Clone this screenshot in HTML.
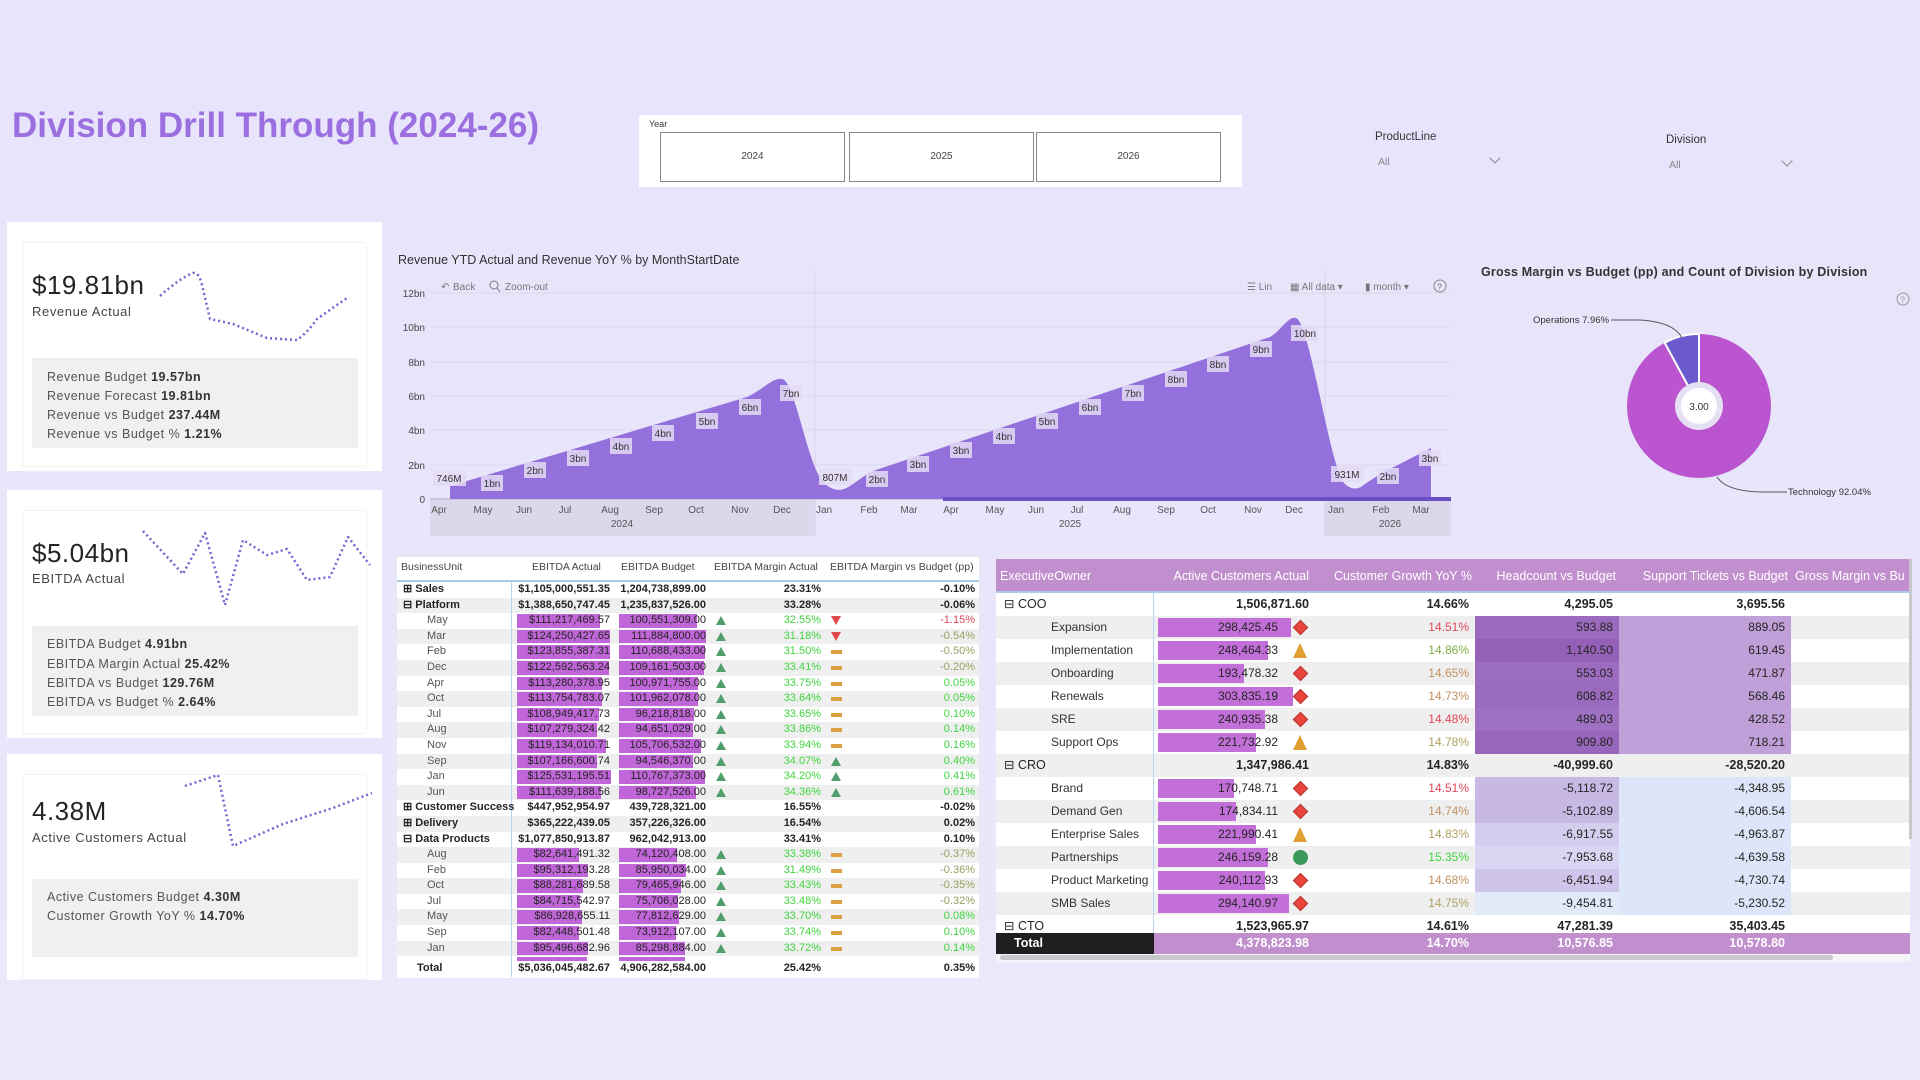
<!DOCTYPE html>
<html><head><meta charset="utf-8">
<style>
*{box-sizing:border-box;margin:0;padding:0}
body{width:1920px;height:1080px;overflow:hidden;background:linear-gradient(180deg,#e7e4fb 0%,#e9e6fb 60%,#ebe8fb 100%);font-family:"Liberation Sans",sans-serif;position:relative;color:#252423}
.abs{position:absolute}
.card{position:absolute;left:7px;width:375px;background:#fff}
.inner{position:absolute;left:15px;width:345px;border:1px solid #f3f3f3;background:#fff}
.big{position:absolute;left:25px;font-size:26px;color:#252423;letter-spacing:0.5px}
.lbl{position:absolute;left:25px;font-size:13px;color:#444;letter-spacing:0.6px}
.gbox{position:absolute;left:25px;width:326px;background:#f0f0f0}
.gl{position:absolute;left:40px;font-size:12.5px;color:#555;letter-spacing:0.5px;white-space:nowrap}
.gl b{color:#333}
.lt{position:absolute;left:397px;top:557px;width:582px;height:421px;background:#fff;font-size:11px;overflow:hidden}
.lt .r{height:15.6px;display:flex;line-height:15.6px;white-space:nowrap}
.lt .g{background:#efefef}
.lt .c1{width:115px;padding-left:6px;border-right:1.5px solid #b8d4ee;position:relative}
.lt .c2{width:99px;text-align:right;position:relative;padding-right:1px}
.lt .c3{width:95px;text-align:right;position:relative}
.lt .c4{width:115px;text-align:right;position:relative}
.lt .c5{width:154px;text-align:right;position:relative}
.lt .b .c1,.lt .b .c2,.lt .b .c3,.lt .b .c4,.lt .b .c5{font-weight:bold}
.lt .m{padding-left:30px;color:#555}
.bar{position:absolute;top:1px;height:13.6px;background:#c066d8;z-index:0}
.t{position:relative;z-index:1}
.up{position:absolute;left:10px;top:3px;width:0;height:0;border-left:5px solid transparent;border-right:5px solid transparent;border-bottom:9px solid #4f9e6c}
.dn{position:absolute;left:10px;top:3px;width:0;height:0;border-left:5.5px solid transparent;border-right:5.5px solid transparent;border-top:9px solid #e0474a}
.da{position:absolute;left:10px;top:6px;width:11px;height:4px;background:#dda040}
.grn{color:#3fd43f}.red{color:#e04858}.ol{color:#96a060}
.rt{position:absolute;left:996px;top:559px;width:914px;height:395px;background:#fff;font-size:12px;overflow:hidden}
.rt .h{height:34px;display:flex;background:#c18fcd;color:#fff;line-height:34px;border-bottom:2px solid #a8cbe8;font-size:12.5px;white-space:nowrap}
.rt .r{height:23px;display:flex;line-height:23px;white-space:nowrap}
.rt .g{background:#efefef}
.rt .c1{width:158px;border-right:1.5px solid #b8d4ee;position:relative;padding-left:8px}
.rt .c2{width:159px;text-align:right;position:relative;padding-right:35px}
.rt .c3{width:162px;text-align:right;padding-right:6px}
.rt .c4{width:144px;text-align:right;padding-right:6px}
.rt .c5{width:172px;text-align:right;padding-right:6px}
.rt .c6{width:119px}
.rt .b{font-weight:bold;font-size:12.5px}
.rt .s{padding-left:55px;color:#333}
.rbar{position:absolute;left:4px;top:2px;height:19px;background:#c36fda}
.dia{position:absolute;right:7px;top:6px;width:11px;height:11px;background:#e8453c;transform:rotate(45deg);border:1px solid #b33}
.tri{position:absolute;right:6px;top:4px;width:0;height:0;border-left:7px solid transparent;border-right:7px solid transparent;border-bottom:15px solid #e0a030}
.cir{position:absolute;right:5px;top:4px;width:15px;height:15px;border-radius:50%;background:#3a9a5a}
</style></head><body>

<div class="abs" style="left:12px;top:106px;font-size:35px;font-weight:bold;color:#9b6fe0;white-space:nowrap">Division Drill Through (2024-26)</div>

<!-- Year slicer -->
<div class="abs" style="left:639px;top:115px;width:603px;height:72px;background:#fff"></div>
<div class="abs" style="left:649px;top:119px;font-size:9px;color:#333">Year</div>
<div class="abs" style="left:660px;top:132px;width:185px;height:50px;border:1px solid #888;background:#fff;font-size:10px;text-align:center;line-height:48px;color:#444">2024</div>
<div class="abs" style="left:849px;top:132px;width:185px;height:50px;border:1px solid #888;background:#fff;font-size:10px;text-align:center;line-height:48px;color:#444">2025</div>
<div class="abs" style="left:1036px;top:132px;width:185px;height:50px;border:1px solid #888;background:#fff;font-size:10px;text-align:center;line-height:48px;color:#444">2026</div>

<div class="abs" style="left:1375px;top:131px;font-size:11.5px;color:#333">ProductLine</div>
<div class="abs" style="left:1378px;top:156px;font-size:10.5px;color:#888">All</div>
<div class="abs" style="left:1491px;top:154px;width:8px;height:8px;border-right:1px solid #888;border-bottom:1px solid #888;transform:rotate(45deg)"></div>
<div class="abs" style="left:1666px;top:134px;font-size:11.5px;color:#333">Division</div>
<div class="abs" style="left:1669px;top:159px;font-size:10.5px;color:#888">All</div>
<div class="abs" style="left:1783px;top:157px;width:8px;height:8px;border-right:1px solid #888;border-bottom:1px solid #888;transform:rotate(45deg)"></div>

<!-- Cards -->
<div class="card" style="top:222px;height:249px">
  <div class="inner" style="top:20px;height:225px"></div>
  <div class="big" style="top:48px">$19.81bn</div>
  <div class="lbl" style="top:82px">Revenue Actual</div>
  <div class="gbox" style="top:136px;height:90px"></div>
  <div class="gl" style="top:148px">Revenue Budget <b>19.57bn</b></div>
  <div class="gl" style="top:167px">Revenue Forecast <b>19.81bn</b></div>
  <div class="gl" style="top:186px">Revenue vs Budget <b>237.44M</b></div>
  <div class="gl" style="top:205px">Revenue vs Budget % <b>1.21%</b></div>
</div>
<div class="card" style="top:490px;height:248px">
  <div class="inner" style="top:20px;height:224px"></div>
  <div class="big" style="top:48px">$5.04bn</div>
  <div class="lbl" style="top:81px">EBITDA Actual</div>
  <div class="gbox" style="top:136px;height:90px"></div>
  <div class="gl" style="top:147px">EBITDA Budget <b>4.91bn</b></div>
  <div class="gl" style="top:167px">EBITDA Margin Actual <b>25.42%</b></div>
  <div class="gl" style="top:186px">EBITDA vs Budget <b>129.76M</b></div>
  <div class="gl" style="top:205px">EBITDA vs Budget % <b>2.64%</b></div>
</div>
<div class="card" style="top:754px;height:226px">
  <div class="inner" style="top:20px;height:206px"></div>
  <div class="big" style="top:42px">4.38M</div>
  <div class="lbl" style="top:76px">Active Customers Actual</div>
  <div class="gbox" style="top:125px;height:78px"></div>
  <div class="gl" style="top:136px">Active Customers Budget <b>4.30M</b></div>
  <div class="gl" style="top:155px">Customer Growth YoY % <b>14.70%</b></div>
</div>
<svg class="abs" style="left:0;top:0" width="400" height="1000">
 <g fill="none" stroke="#7b61d0" stroke-width="2.5" stroke-dasharray="2 3" stroke-linejoin="round">
  <path d="M160,296 Q180,278 193,273 Q199,272 202,285 L210,319 L233,324 L267,338 L297,340 Q308,332 317,319 L347,298"/>
  <path d="M143,531 L183,574 L205,533 L225,605 L243,540 L267,555 L287,549 L307,580 L330,577 L348,537 L370,565"/>
  <path d="M185,786 L218,775 L233,846 L283,824 L333,808 L372,793"/>
 </g>
</svg>

<!-- Area chart -->
<div class="abs" style="left:398px;top:253px;font-size:12.5px;color:#333;white-space:nowrap">Revenue YTD Actual and Revenue YoY % by MonthStartDate</div>
<svg class="abs" style="left:0;top:0" width="1460" height="540" font-family="Liberation Sans, sans-serif">
 <rect x="430" y="499" width="385" height="37" fill="#dcd8ec"/>
 <rect x="1325" y="499" width="126" height="37" fill="#dcd8ec"/>
 <g stroke="#dcd8ee" stroke-width="1">
  <line x1="430" y1="293" x2="1451" y2="293"/><line x1="430" y1="327" x2="1451" y2="327"/>
  <line x1="430" y1="362" x2="1451" y2="362"/><line x1="430" y1="396" x2="1451" y2="396"/>
  <line x1="430" y1="430" x2="1451" y2="430"/><line x1="430" y1="465" x2="1451" y2="465"/>
  <line x1="815" y1="270" x2="815" y2="536" stroke="#d8d4ea"/>
  <line x1="1325" y1="270" x2="1325" y2="536" stroke="#d8d4ea"/>
 </g>
 <line x1="430" y1="499" x2="1451" y2="499" stroke="#b0b0c0"/>
 <path d="M450,499 L450,486 L747,397 C765,388 772,378 782,379 C795,380 808,470 825,484 C835,492 842,491 850,486 L870,472 L1270,337 C1282,330 1288,316 1296,318 C1310,322 1330,470 1345,484 C1352,490 1358,490 1365,484 L1380,474 L1431,448 L1431,499 Z" fill="#9370db"/>
 <rect x="943" y="497" width="508" height="4" fill="#6a4fc4"/>
 <g font-size="10" fill="#444" text-anchor="end">
  <text x="425" y="297">12bn</text><text x="425" y="331">10bn</text><text x="425" y="366">8bn</text>
  <text x="425" y="400">6bn</text><text x="425" y="434">4bn</text><text x="425" y="469">2bn</text><text x="425" y="503">0</text>
 </g>
 <g font-size="10" fill="#555" text-anchor="middle">
  <text x="439" y="513">Apr</text><text x="483" y="513">May</text><text x="524" y="513">Jun</text><text x="565" y="513">Jul</text>
  <text x="610" y="513">Aug</text><text x="654" y="513">Sep</text><text x="696" y="513">Oct</text><text x="740" y="513">Nov</text>
  <text x="782" y="513">Dec</text><text x="824" y="513">Jan</text><text x="869" y="513">Feb</text><text x="909" y="513">Mar</text>
  <text x="951" y="513">Apr</text><text x="995" y="513">May</text><text x="1036" y="513">Jun</text><text x="1077" y="513">Jul</text>
  <text x="1122" y="513">Aug</text><text x="1166" y="513">Sep</text><text x="1208" y="513">Oct</text><text x="1253" y="513">Nov</text>
  <text x="1294" y="513">Dec</text><text x="1336" y="513">Jan</text><text x="1381" y="513">Feb</text><text x="1421" y="513">Mar</text>
  <text x="622" y="527">2024</text><text x="1070" y="527">2025</text><text x="1390" y="527">2026</text>
 </g>
 <g font-size="10" fill="#333" text-anchor="middle">
  <g fill="#e4dcf5" opacity="0.85">
   <rect x="433" y="470" width="33" height="16"/><rect x="481" y="475" width="22" height="16"/><rect x="524" y="462" width="22" height="16"/>
   <rect x="567" y="450" width="22" height="16"/><rect x="610" y="438" width="22" height="16"/><rect x="652" y="425" width="22" height="16"/>
   <rect x="696" y="413" width="22" height="16"/><rect x="739" y="399" width="22" height="16"/><rect x="780" y="385" width="22" height="16"/>
   <rect x="819" y="469" width="33" height="16"/><rect x="866" y="471" width="22" height="16"/><rect x="907" y="456" width="22" height="16"/>
   <rect x="950" y="442" width="22" height="16"/><rect x="993" y="428" width="22" height="16"/><rect x="1036" y="413" width="22" height="16"/>
   <rect x="1079" y="399" width="22" height="16"/><rect x="1122" y="385" width="22" height="16"/><rect x="1165" y="371" width="22" height="16"/>
   <rect x="1207" y="356" width="22" height="16"/><rect x="1250" y="341" width="22" height="16"/><rect x="1291" y="325" width="27" height="16"/>
   <rect x="1331" y="466" width="33" height="16"/><rect x="1377" y="468" width="22" height="16"/><rect x="1419" y="450" width="22" height="16"/>
  </g>
  <text x="449" y="482">746M</text><text x="492" y="487">1bn</text><text x="535" y="474">2bn</text><text x="578" y="462">3bn</text>
  <text x="621" y="450">4bn</text><text x="663" y="437">4bn</text><text x="707" y="425">5bn</text><text x="750" y="411">6bn</text>
  <text x="791" y="397">7bn</text><text x="835" y="481">807M</text><text x="877" y="483">2bn</text><text x="918" y="468">3bn</text>
  <text x="961" y="454">3bn</text><text x="1004" y="440">4bn</text><text x="1047" y="425">5bn</text><text x="1090" y="411">6bn</text>
  <text x="1133" y="397">7bn</text><text x="1176" y="383">8bn</text><text x="1218" y="368">8bn</text><text x="1261" y="353">9bn</text>
  <text x="1305" y="337">10bn</text><text x="1347" y="478">931M</text><text x="1388" y="480">2bn</text><text x="1430" y="462">3bn</text>
 </g>
 <g font-size="10" fill="#777">
  <text x="441" y="290">↶</text><text x="453" y="290">Back</text>
  <circle cx="494" cy="285" r="4" fill="none" stroke="#777"/><line x1="497" y1="288" x2="500" y2="292" stroke="#777"/>
  <text x="505" y="290">Zoom-out</text>
  <text x="1247" y="290">☰ Lin</text><text x="1290" y="290">▦ All data ▾</text><text x="1365" y="290">▮ month ▾</text>
  <circle cx="1440" cy="286" r="6" fill="none" stroke="#888"/><text x="1437" y="290" font-size="9">?</text>
 </g>
</svg>

<!-- Donut -->
<div class="abs" style="left:1481px;top:265px;font-size:12.5px;color:#333;font-weight:bold;white-space:nowrap;letter-spacing:0.2px">Gross Margin vs Budget (pp) and Count of Division by Division</div>
<svg class="abs" style="left:1460px;top:280px" width="460" height="240" font-family="Liberation Sans, sans-serif">
 <circle cx="443" cy="19" r="6" fill="none" stroke="#999"/><text x="440" y="23" font-size="9" fill="#999">?</text>
 <circle cx="239" cy="126" r="72" fill="#bb55cf"/>
 <path d="M239,126 L239,54 A72,72 0 0 0 204.6,62.7 Z" fill="#6a5acd" stroke="#fff" stroke-width="2"/>
 <circle cx="239" cy="126" r="24" fill="#e6e0f5"/>
 <circle cx="239" cy="126" r="18" fill="#fff"/>
 <text x="239" y="130" font-size="10" text-anchor="middle" fill="#333">3.00</text>
 <path d="M151,40 L180,40 Q214,42 222,58" fill="none" stroke="#555" stroke-width="1"/>
 <text x="73" y="43" font-size="9.5" fill="#333">Operations 7.96%</text>
 <path d="M257,197 Q266,211 300,212 L327,212" fill="none" stroke="#555" stroke-width="1"/>
 <text x="328" y="215" font-size="9.5" fill="#333">Technology 92.04%</text>
</svg>

<!-- Left table -->
<div class="lt">
 <div class="r" style="height:25px;line-height:20px;border-bottom:2px solid #a8cbe8;color:#444;font-size:10.5px">
  <div class="c1" style="border:none;padding-left:4px">BusinessUnit</div><div class="c2" style="text-align:left;padding-left:20px">EBITDA Actual</div><div class="c3" style="text-align:left;padding-left:10px">EBITDA Budget</div><div class="c4" style="text-align:left;padding-left:8px">EBITDA Margin Actual</div><div class="c5" style="text-align:left;padding-left:9px">EBITDA Margin vs Budget (pp)</div>
 </div>
 <div class="r b"><div class="c1">⊞ Sales</div><div class="c2">$1,105,000,551.35</div><div class="c3">1,204,738,899.00</div><div class="c4">23.31%</div><div class="c5">-0.10%</div></div>
 <div class="r b g"><div class="c1">⊟ Platform</div><div class="c2">$1,388,650,747.45</div><div class="c3">1,235,837,526.00</div><div class="c4">33.28%</div><div class="c5">-0.06%</div></div>
 <div class="r"><div class="c1 m">May</div><div class="c2"><div class="bar" style="left:5px;width:83px"></div><span class="t">$111,217,469.57</span></div><div class="c3"><div class="bar" style="left:8px;width:78px"></div><span class="t">100,551,309.00</span></div><div class="c4 grn"><div class="up"></div>32.55%</div><div class="c5 red"><div class="dn"></div>-1.15%</div></div>
 <div class="r g"><div class="c1 m">Mar</div><div class="c2"><div class="bar" style="left:5px;width:93px"></div><span class="t">$124,250,427.65</span></div><div class="c3"><div class="bar" style="left:8px;width:87px"></div><span class="t">111,884,800.00</span></div><div class="c4 grn"><div class="up"></div>31.18%</div><div class="c5 ol"><div class="dn"></div>-0.54%</div></div>
 <div class="r"><div class="c1 m">Feb</div><div class="c2"><div class="bar" style="left:5px;width:93px"></div><span class="t">$123,855,387.31</span></div><div class="c3"><div class="bar" style="left:8px;width:86px"></div><span class="t">110,688,433.00</span></div><div class="c4 grn"><div class="up"></div>31.50%</div><div class="c5 ol"><div class="da"></div>-0.50%</div></div>
 <div class="r g"><div class="c1 m">Dec</div><div class="c2"><div class="bar" style="left:5px;width:92px"></div><span class="t">$122,592,563.24</span></div><div class="c3"><div class="bar" style="left:8px;width:85px"></div><span class="t">109,161,503.00</span></div><div class="c4 grn"><div class="up"></div>33.41%</div><div class="c5 ol"><div class="da"></div>-0.20%</div></div>
 <div class="r"><div class="c1 m">Apr</div><div class="c2"><div class="bar" style="left:5px;width:85px"></div><span class="t">$113,280,378.95</span></div><div class="c3"><div class="bar" style="left:8px;width:79px"></div><span class="t">100,971,755.00</span></div><div class="c4 grn"><div class="up"></div>33.75%</div><div class="c5 grn"><div class="da"></div>0.05%</div></div>
 <div class="r g"><div class="c1 m">Oct</div><div class="c2"><div class="bar" style="left:5px;width:85px"></div><span class="t">$113,754,783.07</span></div><div class="c3"><div class="bar" style="left:8px;width:79px"></div><span class="t">101,962,078.00</span></div><div class="c4 grn"><div class="up"></div>33.64%</div><div class="c5 grn"><div class="da"></div>0.05%</div></div>
 <div class="r"><div class="c1 m">Jul</div><div class="c2"><div class="bar" style="left:5px;width:82px"></div><span class="t">$108,949,417.73</span></div><div class="c3"><div class="bar" style="left:8px;width:75px"></div><span class="t">96,218,818.00</span></div><div class="c4 grn"><div class="up"></div>33.65%</div><div class="c5 grn"><div class="da"></div>0.10%</div></div>
 <div class="r g"><div class="c1 m">Aug</div><div class="c2"><div class="bar" style="left:5px;width:80px"></div><span class="t">$107,279,324.42</span></div><div class="c3"><div class="bar" style="left:8px;width:74px"></div><span class="t">94,651,029.00</span></div><div class="c4 grn"><div class="up"></div>33.86%</div><div class="c5 grn"><div class="da"></div>0.14%</div></div>
 <div class="r"><div class="c1 m">Nov</div><div class="c2"><div class="bar" style="left:5px;width:89px"></div><span class="t">$119,134,010.71</span></div><div class="c3"><div class="bar" style="left:8px;width:82px"></div><span class="t">105,706,532.00</span></div><div class="c4 grn"><div class="up"></div>33.94%</div><div class="c5 grn"><div class="da"></div>0.16%</div></div>
 <div class="r g"><div class="c1 m">Sep</div><div class="c2"><div class="bar" style="left:5px;width:80px"></div><span class="t">$107,166,600.74</span></div><div class="c3"><div class="bar" style="left:8px;width:74px"></div><span class="t">94,546,370.00</span></div><div class="c4 grn"><div class="up"></div>34.07%</div><div class="c5 grn"><div class="up"></div>0.40%</div></div>
 <div class="r"><div class="c1 m">Jan</div><div class="c2"><div class="bar" style="left:5px;width:94px"></div><span class="t">$125,531,195.51</span></div><div class="c3"><div class="bar" style="left:8px;width:86px"></div><span class="t">110,767,373.00</span></div><div class="c4 grn"><div class="up"></div>34.20%</div><div class="c5 grn"><div class="up"></div>0.41%</div></div>
 <div class="r g"><div class="c1 m">Jun</div><div class="c2"><div class="bar" style="left:5px;width:84px"></div><span class="t">$111,639,188.56</span></div><div class="c3"><div class="bar" style="left:8px;width:77px"></div><span class="t">98,727,526.00</span></div><div class="c4 grn"><div class="up"></div>34.36%</div><div class="c5 grn"><div class="up"></div>0.61%</div></div>
 <div class="r b"><div class="c1">⊞ Customer Success</div><div class="c2">$447,952,954.97</div><div class="c3">439,728,321.00</div><div class="c4">16.55%</div><div class="c5">-0.02%</div></div>
 <div class="r b g"><div class="c1">⊞ Delivery</div><div class="c2">$365,222,439.05</div><div class="c3">357,226,326.00</div><div class="c4">16.54%</div><div class="c5">0.02%</div></div>
 <div class="r b"><div class="c1">⊟ Data Products</div><div class="c2">$1,077,850,913.87</div><div class="c3">962,042,913.00</div><div class="c4">33.41%</div><div class="c5">0.10%</div></div>
 <div class="r g"><div class="c1 m">Aug</div><div class="c2"><div class="bar" style="left:5px;width:62px"></div><span class="t">$82,641,491.32</span></div><div class="c3"><div class="bar" style="left:8px;width:58px"></div><span class="t">74,120,408.00</span></div><div class="c4 grn"><div class="up"></div>33.38%</div><div class="c5 ol"><div class="da"></div>-0.37%</div></div>
 <div class="r"><div class="c1 m">Feb</div><div class="c2"><div class="bar" style="left:5px;width:71px"></div><span class="t">$95,312,193.28</span></div><div class="c3"><div class="bar" style="left:8px;width:67px"></div><span class="t">85,950,034.00</span></div><div class="c4 grn"><div class="up"></div>31.49%</div><div class="c5 ol"><div class="da"></div>-0.36%</div></div>
 <div class="r g"><div class="c1 m">Oct</div><div class="c2"><div class="bar" style="left:5px;width:66px"></div><span class="t">$88,281,689.58</span></div><div class="c3"><div class="bar" style="left:8px;width:62px"></div><span class="t">79,465,946.00</span></div><div class="c4 grn"><div class="up"></div>33.43%</div><div class="c5 ol"><div class="da"></div>-0.35%</div></div>
 <div class="r"><div class="c1 m">Jul</div><div class="c2"><div class="bar" style="left:5px;width:63px"></div><span class="t">$84,715,542.97</span></div><div class="c3"><div class="bar" style="left:8px;width:59px"></div><span class="t">75,706,028.00</span></div><div class="c4 grn"><div class="up"></div>33.48%</div><div class="c5 ol"><div class="da"></div>-0.32%</div></div>
 <div class="r g"><div class="c1 m">May</div><div class="c2"><div class="bar" style="left:5px;width:65px"></div><span class="t">$86,928,655.11</span></div><div class="c3"><div class="bar" style="left:8px;width:60px"></div><span class="t">77,812,629.00</span></div><div class="c4 grn"><div class="up"></div>33.70%</div><div class="c5 grn"><div class="da"></div>0.08%</div></div>
 <div class="r"><div class="c1 m">Sep</div><div class="c2"><div class="bar" style="left:5px;width:62px"></div><span class="t">$82,448,501.48</span></div><div class="c3"><div class="bar" style="left:8px;width:57px"></div><span class="t">73,912,107.00</span></div><div class="c4 grn"><div class="up"></div>33.74%</div><div class="c5 grn"><div class="da"></div>0.10%</div></div>
 <div class="r g"><div class="c1 m">Jan</div><div class="c2"><div class="bar" style="left:5px;width:71px"></div><span class="t">$95,496,682.96</span></div><div class="c3"><div class="bar" style="left:8px;width:66px"></div><span class="t">85,298,884.00</span></div><div class="c4 grn"><div class="up"></div>33.72%</div><div class="c5 grn"><div class="da"></div>0.14%</div></div>
 <div class="r" style="height:5px;overflow:hidden"><div class="c1 m"></div><div class="c2"><div class="bar" style="left:5px;width:70px"></div></div><div class="c3"><div class="bar" style="left:8px;width:66px"></div></div><div class="c4"></div><div class="c5"></div></div>
 <div class="r b" style="height:16px"><div class="c1" style="padding-left:20px">Total</div><div class="c2">$5,036,045,482.67</div><div class="c3">4,906,282,584.00</div><div class="c4">25.42%</div><div class="c5">0.35%</div></div>
</div>

<!-- Right table -->
<div class="rt">
 <div class="h"><div class="c1" style="border:none;padding-left:4px">ExecutiveOwner</div><div class="c2" style="padding-right:4px">Active Customers Actual</div><div class="c3" style="padding-right:3px">Customer Growth YoY %</div><div class="c4" style="padding-right:3px">Headcount vs Budget</div><div class="c5" style="padding-right:3px">Support Tickets vs Budget</div><div class="c6" style="padding-left:4px">Gross Margin vs Bu</div></div>
 <div class="r b"><div class="c1" style="font-weight:normal">⊟ COO</div><div class="c2" style="padding-right:4px">1,506,871.60</div><div class="c3">14.66%</div><div class="c4">4,295.05</div><div class="c5">3,695.56</div><div class="c6"></div></div>
 <div class="r g"><div class="c1 s">Expansion</div><div class="c2"><div class="rbar" style="width:133px"></div><span class="t">298,425.45</span><div class="dia"></div></div><div class="c3 red">14.51%</div><div class="c4" style="background:#9c6bc0">593.88</div><div class="c5" style="background:#c0a0d8">889.05</div><div class="c6"></div></div>
 <div class="r"><div class="c1 s">Implementation</div><div class="c2"><div class="rbar" style="width:110px"></div><span class="t">248,464.33</span><div class="tri"></div></div><div class="c3" style="color:#7fae4a">14.86%</div><div class="c4" style="background:#9460b8">1,140.50</div><div class="c5" style="background:#c0a0d8">619.45</div><div class="c6"></div></div>
 <div class="r g"><div class="c1 s">Onboarding</div><div class="c2"><div class="rbar" style="width:86px"></div><span class="t">193,478.32</span><div class="dia"></div></div><div class="c3" style="color:#c09060">14.65%</div><div class="c4" style="background:#9c6cc0">553.03</div><div class="c5" style="background:#c0a0d8">471.87</div><div class="c6"></div></div>
 <div class="r"><div class="c1 s">Renewals</div><div class="c2"><div class="rbar" style="width:135px"></div><span class="t">303,835.19</span><div class="dia"></div></div><div class="c3" style="color:#c09060">14.73%</div><div class="c4" style="background:#9a6abf">608.82</div><div class="c5" style="background:#c0a0d8">568.46</div><div class="c6"></div></div>
 <div class="r g"><div class="c1 s">SRE</div><div class="c2"><div class="rbar" style="width:107px"></div><span class="t">240,935.38</span><div class="dia"></div></div><div class="c3 red">14.48%</div><div class="c4" style="background:#9e70c2">489.03</div><div class="c5" style="background:#c0a0d8">428.52</div><div class="c6"></div></div>
 <div class="r"><div class="c1 s">Support Ops</div><div class="c2"><div class="rbar" style="width:98px"></div><span class="t">221,732.92</span><div class="tri"></div></div><div class="c3" style="color:#b0a060">14.78%</div><div class="c4" style="background:#9866bc">909.80</div><div class="c5" style="background:#c0a0d8">718.21</div><div class="c6"></div></div>
 <div class="r b g"><div class="c1" style="font-weight:normal">⊟ CRO</div><div class="c2" style="padding-right:4px">1,347,986.41</div><div class="c3">14.83%</div><div class="c4">-40,999.60</div><div class="c5">-28,520.20</div><div class="c6"></div></div>
 <div class="r"><div class="c1 s">Brand</div><div class="c2"><div class="rbar" style="width:76px"></div><span class="t">170,748.71</span><div class="dia"></div></div><div class="c3 red">14.51%</div><div class="c4" style="background:#c8b8e4">-5,118.72</div><div class="c5" style="background:#dce6f8">-4,348.95</div><div class="c6"></div></div>
 <div class="r g"><div class="c1 s">Demand Gen</div><div class="c2"><div class="rbar" style="width:78px"></div><span class="t">174,834.11</span><div class="dia"></div></div><div class="c3" style="color:#c09060">14.74%</div><div class="c4" style="background:#c8b8e4">-5,102.89</div><div class="c5" style="background:#dce6f8">-4,606.54</div><div class="c6"></div></div>
 <div class="r"><div class="c1 s">Enterprise Sales</div><div class="c2"><div class="rbar" style="width:98px"></div><span class="t">221,990.41</span><div class="tri"></div></div><div class="c3" style="color:#b0a060">14.83%</div><div class="c4" style="background:#d4cdee">-6,917.55</div><div class="c5" style="background:#dce6f8">-4,963.87</div><div class="c6"></div></div>
 <div class="r g"><div class="c1 s">Partnerships</div><div class="c2"><div class="rbar" style="width:110px"></div><span class="t">246,159.28</span><div class="cir"></div></div><div class="c3 grn">15.35%</div><div class="c4" style="background:#d8d6f2">-7,953.68</div><div class="c5" style="background:#dce6f8">-4,639.58</div><div class="c6"></div></div>
 <div class="r"><div class="c1 s">Product Marketing</div><div class="c2"><div class="rbar" style="width:107px"></div><span class="t">240,112.93</span><div class="dia"></div></div><div class="c3" style="color:#c09060">14.68%</div><div class="c4" style="background:#cfc4ea">-6,451.94</div><div class="c5" style="background:#dce6f8">-4,730.74</div><div class="c6"></div></div>
 <div class="r g"><div class="c1 s">SMB Sales</div><div class="c2"><div class="rbar" style="width:131px"></div><span class="t">294,140.97</span><div class="dia"></div></div><div class="c3" style="color:#b0a060">14.75%</div><div class="c4" style="background:#e0eaf8">-9,454.81</div><div class="c5" style="background:#dce6f8">-5,230.52</div><div class="c6"></div></div>
 <div class="r b" style="height:18px;line-height:22px;overflow:hidden"><div class="c1" style="font-weight:normal">⊟ CTO</div><div class="c2" style="padding-right:4px">1,523,965.97</div><div class="c3">14.61%</div><div class="c4">47,281.39</div><div class="c5">35,403.45</div><div class="c6"></div></div>
 <div class="r b" style="height:21px;line-height:21px;background:#c18fcd;color:#fff"><div class="c1" style="background:#1f1f1f;padding-left:18px;border:none">Total</div><div class="c2" style="padding-right:4px">4,378,823.98</div><div class="c3">14.70%</div><div class="c4">10,576.85</div><div class="c5">10,578.80</div><div class="c6"></div></div>
</div>
<div class="abs" style="left:996px;top:954px;width:914px;height:8px;background:#f4f4f6"></div>
<div class="abs" style="left:1000px;top:955px;width:833px;height:5px;background:#c8c8cc;border-radius:3px"></div>
<div class="abs" style="left:1909px;top:559px;width:3px;height:280px;background:#c8c8cc"></div>
</body></html>
